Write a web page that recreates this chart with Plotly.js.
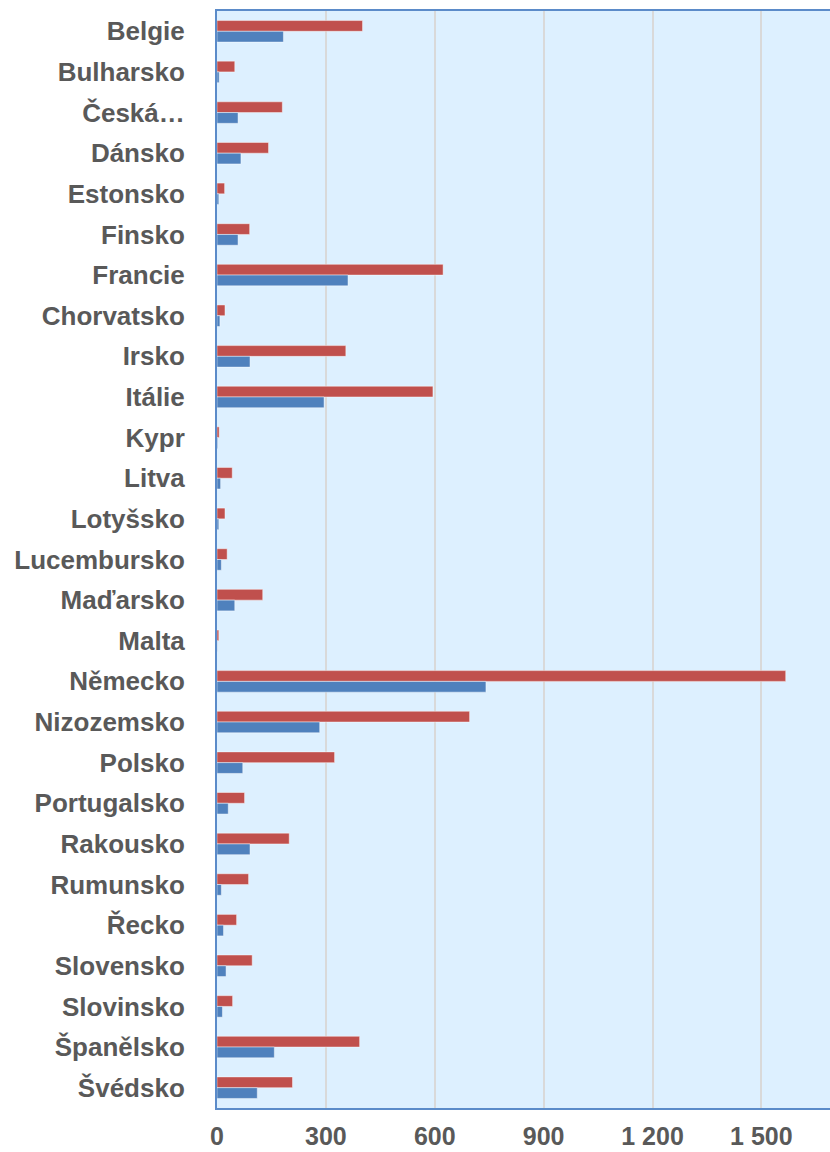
<!DOCTYPE html>
<html>
<head>
<meta charset="utf-8">
<script src="https://cdn.plot.ly/plotly-3.0.1.min.js"></script>
<style>html,body{margin:0;padding:0;background:#fff;}#chart{width:830px;height:1152px;}</style>
</head>
<body>
<div id="chart"></div>
<script>
var countries = ["Belgie","Bulharsko","Česká…","Dánsko","Estonsko","Finsko","Francie","Chorvatsko","Irsko","Itálie","Kypr","Litva","Lotyšsko","Lucembursko","Maďarsko","Malta","Německo","Nizozemsko","Polsko","Portugalsko","Rakousko","Rumunsko","Řecko","Slovensko","Slovinsko","Španělsko","Švédsko"];
var redValues = [401,49,180,142,21,90,623,22,355,595,6,42,22,28,126,5,1567,696,324,76,199,87,54,97,43,393,208];
var blueValues = [183,6,58,66,5,58,361,8,91,295,2,10,5,12,49,1,741,283,71,31,91,12,18,25,15,158,111];
var xTicks = [0,300,600,900,1200,1500];

var traces = [
  {type:'bar', orientation:'h', y:countries, x:redValues, name:'red',
   marker:{color:'#C0504D', line:{color:'rgba(255,255,255,0.45)', width:1}}, hoverinfo:'x+y'},
  {type:'bar', orientation:'h', y:countries, x:blueValues, name:'blue',
   marker:{color:'#4F81BD', line:{color:'rgba(255,255,255,0.45)', width:1}}, hoverinfo:'x+y'}
];

var layout = {
  width:830, height:1152,
  margin:{l:217, r:0, t:11, b:44, pad:0},
  paper_bgcolor:'#ffffff',
  plot_bgcolor:'#DDF0FF',
  barmode:'group', bargap:0.47, bargroupgap:0,
  showlegend:false,
  separators:', ',
  font:{family:'Arial, Liberation Sans, sans-serif', color:'#595959'},
  xaxis:{
    range:[0,1689], tickvals:xTicks, tickformat:',d',
    showgrid:true, gridcolor:'#D9D9D9', gridwidth:2,
    zeroline:false, showline:true, linecolor:'#5B8BC9', linewidth:2, mirror:true,
    ticks:'', ticklabelstandoff:5,
    tickfont:{family:'Arial, Liberation Sans, sans-serif', size:25, color:'#595959', weight:'bold'}
  },
  yaxis:{
    type:'category', autorange:'reversed',
    showgrid:false, zeroline:false, showline:true, linecolor:'#5B8BC9', linewidth:2,
    ticks:'', ticklabelstandoff:25,
    tickfont:{family:'Arial, Liberation Sans, sans-serif', size:26, color:'#595959', weight:'bold'}
  }
};
Plotly.newPlot('chart', traces, layout, {displayModeBar:false, staticPlot:true});
</script>
</body>
</html>
